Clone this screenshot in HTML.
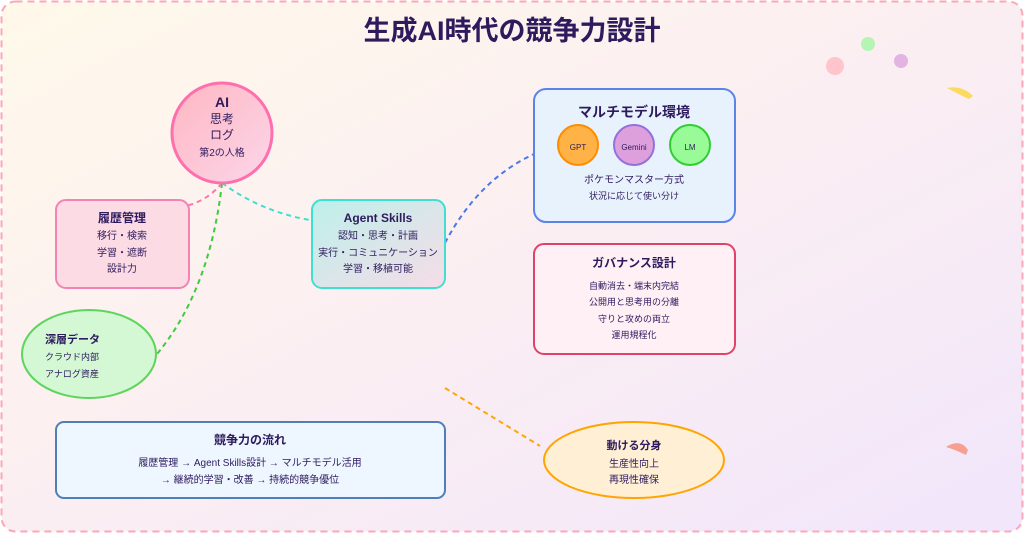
<!DOCTYPE html>
<html><head><meta charset="utf-8"><style>
html,body{margin:0;padding:0;width:1024px;height:533px;overflow:hidden;background:#fff}
text{font-family:"Liberation Sans","Noto Sans CJK JP",sans-serif;fill:#2d1b5e}
</style></head><body>
<svg width="1024" height="533" viewBox="0 0 1024 533" xmlns="http://www.w3.org/2000/svg">
<defs>
<linearGradient id="bg" x1="0" y1="0" x2="1" y2="1"><stop offset="0" stop-color="#fff9ea"/><stop offset="0.5" stop-color="#fbeef2"/><stop offset="1" stop-color="#f1e6fb"/></linearGradient>
<linearGradient id="ai" x1="0" y1="0" x2="1" y2="1"><stop offset="0" stop-color="#ffb6c1"/><stop offset="1" stop-color="#fbd6ea"/></linearGradient>
<linearGradient id="ag" x1="0" y1="0" x2="1" y2="1"><stop offset="0" stop-color="#bdf0ea"/><stop offset="1" stop-color="#f6dce8"/></linearGradient>
</defs>
<rect x="1.5" y="1.5" width="1021" height="530" rx="14" fill="url(#bg)" stroke="#f9a8b8" stroke-width="2" stroke-dasharray="7,5"/>
<text x="512" y="40" font-size="27" font-weight="bold" text-anchor="middle">生成AI時代の競争力設計</text>

<circle cx="835" cy="66" r="9" fill="#ffc4cc"/>
<circle cx="868" cy="44" r="7" fill="#b4f5b4"/>
<circle cx="901" cy="61" r="7" fill="#e2b4e2"/>
<path d="M947,88 Q962,85 973,96 L969,99 Q958,94 947,88Z" fill="#fadb5f"/>
<path d="M946,447 Q960,438 968,450 L966,455 Q956,450 946,447Z" fill="#f8a090"/>

<g fill="none" stroke-width="2" stroke-dasharray="5,4">
<path d="M222,183 Q190,222 125,200" stroke="#f878b0"/>
<path d="M222,183 Q210,290 157,354" stroke="#3ccc3c"/>
<path d="M222,183 Q262,212 310,220" stroke="#40e0d0"/>
<path d="M445,243 Q478,180 534,154" stroke="#4a78e8"/>
<path d="M445,388 L540,446" stroke="#ffa500"/>
</g>

<circle cx="222" cy="133" r="50" fill="url(#ai)" stroke="#ff6fae" stroke-width="3"/>
<text x="222" y="107" font-size="14" font-weight="bold" text-anchor="middle">AI</text>
<text x="222" y="123" font-size="12" text-anchor="middle">思考</text>
<text x="222" y="139" font-size="12" text-anchor="middle">ログ</text>
<text x="222" y="156" font-size="10" text-anchor="middle">第2の人格</text>

<rect x="56" y="200" width="133" height="88" rx="10" fill="#fddbe4" stroke="#f582b4" stroke-width="2"/>
<text x="122" y="222" font-size="12" font-weight="bold" text-anchor="middle">履歴管理</text>
<text x="122" y="239" font-size="10" text-anchor="middle">移行・検索</text>
<text x="122" y="256" font-size="10" text-anchor="middle">学習・遮断</text>
<text x="122" y="272" font-size="10" text-anchor="middle">設計力</text>

<rect x="312" y="200" width="133" height="88" rx="10" fill="url(#ag)" stroke="#40e0d0" stroke-width="2"/>
<text x="378" y="222" font-size="12" font-weight="bold" text-anchor="middle">Agent Skills</text>
<text x="378" y="239" font-size="10" text-anchor="middle">認知・思考・計画</text>
<text x="378" y="256" font-size="10" text-anchor="middle">実行・コミュニケーション</text>
<text x="378" y="272" font-size="10" text-anchor="middle">学習・移植可能</text>

<rect x="534" y="89" width="201" height="133" rx="12" fill="#e8f2fd" stroke="#5b84e8" stroke-width="2"/>
<text x="634" y="117" font-size="14" font-weight="bold" text-anchor="middle">マルチモデル環境</text>
<circle cx="578" cy="145" r="20" fill="#ffb347" stroke="#ff8c00" stroke-width="2"/>
<circle cx="634" cy="145" r="20" fill="#dda0dd" stroke="#9370db" stroke-width="2"/>
<circle cx="690" cy="145" r="20" fill="#98fb98" stroke="#32cd32" stroke-width="2"/>
<text x="578" y="150" font-size="8" text-anchor="middle">GPT</text>
<text x="634" y="150" font-size="8" text-anchor="middle">Gemini</text>
<text x="690" y="150" font-size="8" text-anchor="middle">LM</text>
<text x="634" y="183" font-size="10" text-anchor="middle">ポケモンマスター方式</text>
<text x="634" y="199" font-size="9" text-anchor="middle">状況に応じて使い分け</text>

<rect x="534" y="244" width="201" height="110" rx="10" fill="#fff0f5" stroke="#e0436a" stroke-width="2"/>
<text x="634" y="267" font-size="12" font-weight="bold" text-anchor="middle">ガバナンス設計</text>
<text x="634" y="289" font-size="9" text-anchor="middle">自動消去・端末内完結</text>
<text x="634" y="305" font-size="9" text-anchor="middle">公開用と思考用の分離</text>
<text x="634" y="322" font-size="9" text-anchor="middle">守りと攻めの両立</text>
<text x="634" y="338" font-size="9" text-anchor="middle">運用規程化</text>

<ellipse cx="89" cy="354" rx="67" ry="44" fill="#d4f7d4" stroke="#5dd55d" stroke-width="2"/>
<text x="45" y="343" font-size="11" font-weight="bold">深層データ</text>
<text x="45" y="360" font-size="9">クラウド内部</text>
<text x="45" y="377" font-size="9">アナログ資産</text>

<rect x="56" y="422" width="389" height="76" rx="8" fill="#eef6ff" stroke="#4f7fb8" stroke-width="2"/>
<text x="250" y="444" font-size="12" font-weight="bold" text-anchor="middle">競争力の流れ</text>
<text x="250" y="466" font-size="10" text-anchor="middle">履歴管理 → Agent Skills設計 → マルチモデル活用</text>
<text x="250" y="483" font-size="10" text-anchor="middle">→ 継続的学習・改善 → 持続的競争優位</text>

<ellipse cx="634" cy="460" rx="90" ry="38" fill="#ffefd5" stroke="#ffa500" stroke-width="2"/>
<text x="634" y="449" font-size="11" font-weight="bold" text-anchor="middle">動ける分身</text>
<text x="634" y="467" font-size="10" text-anchor="middle">生産性向上</text>
<text x="634" y="483" font-size="10" text-anchor="middle">再現性確保</text>
</svg>
</body></html>
